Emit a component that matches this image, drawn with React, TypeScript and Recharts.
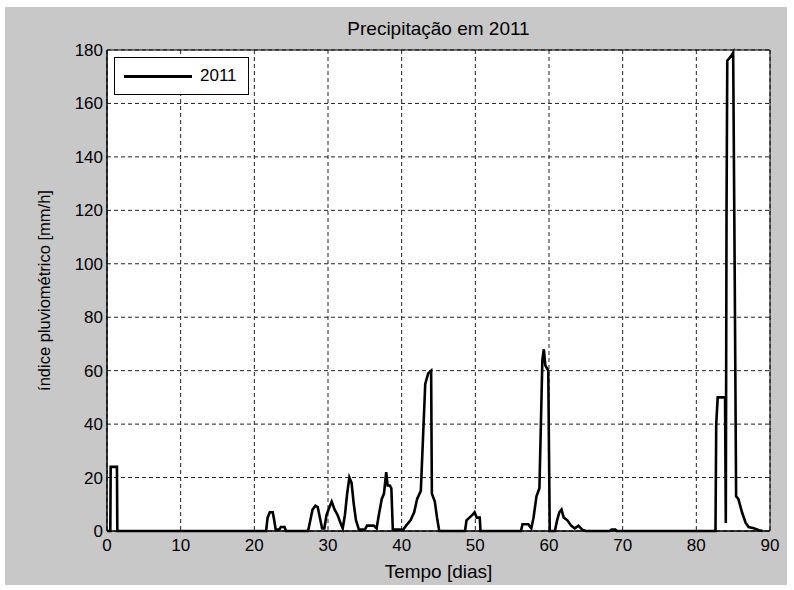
import React from 'react';
import { LineChart, Line, XAxis, YAxis, CartesianGrid, ReferenceArea } from 'recharts';

const title = 'Precipitação em 2011';
const seriesName = '2011';

// tempo em dias
const days = [
  0, 0.45, 0.5, 1.35, 1.4, 21.6, 21.8, 22.1, 22.5, 22.7, 22.9, 23.4, 23.6, 24.1, 24.3,
  27.3, 27.6, 27.9, 28.3, 28.6, 28.9, 29.2, 29.5, 29.8, 30.2, 30.5, 30.9, 31.3, 31.7, 32.0,
  32.3, 32.6, 32.9, 33.2, 33.5, 33.8, 34.2, 35.0, 35.3, 36.2, 36.6, 36.9, 37.3, 37.6, 37.9,
  38.1, 38.4, 38.6, 38.8, 40.2, 40.6, 41.2, 41.7, 42.1, 42.6, 42.9, 43.2, 43.6, 44.0, 44.1,
  44.5, 44.8, 45.1, 48.6, 48.8, 49.2, 49.6, 49.9, 50.2, 50.6, 50.7, 56.2, 56.4, 57.2, 57.6,
  57.9, 58.3, 58.7, 58.9, 59.1, 59.3, 59.5, 59.9, 60.0, 60.1, 60.8, 61.1, 61.4, 61.7, 62.0,
  62.5, 63.0, 63.5, 64.0, 64.5, 65.0, 68.2, 68.5, 69.0, 69.2, 82.6, 82.7, 82.9, 83.9, 84.0,
  84.1, 84.2, 84.8, 85.0, 85.2, 85.4, 85.7, 86.2, 86.7, 87.1, 87.8, 88.5, 89.0,
];

// índice pluviométrico [mm/h]
const rain = [
  0, 0, 24, 24, 0, 0, 5, 7, 7, 4, 0.5, 0.5, 1.5, 1.5, 0,
  0, 4, 8, 9.5, 9, 5, 1, 1, 6, 9, 11, 8, 6, 3, 1,
  6, 14, 20, 18, 10, 4, 0.5, 0.5, 2, 2, 1, 6, 12, 14, 22,
  17, 17, 16, 0.5, 0.5, 2, 4, 7, 12, 15, 35, 55, 59, 60, 14,
  11, 5, 0, 0, 4, 5, 6, 7, 5, 5, 0, 0, 2.5, 2.5, 1,
  5, 13, 16, 40, 64, 68, 62, 60, 30, 0, 0, 4, 7, 8, 5,
  4, 2, 1, 2, 0.5, 0, 0, 0.5, 0.5, 0, 0, 40, 50, 50, 3,
  120, 176, 178, 179, 100, 13, 12, 7, 3, 1.5, 1, 0.3, 0,
];

const xTicks = [0, 10, 20, 30, 40, 50, 60, 70, 80, 90];
const yTicks = [0, 20, 40, 60, 80, 100, 120, 140, 160, 180];

const data = days.map((d, i) => ({ dia: d, valor: rain[i] }));

const font = '"Liberation Sans", Arial, sans-serif';

export default function App() {
  return (
    <div style={{ position: 'absolute', left: 0, top: 0, width: 794, height: 590, background: '#fff' }}>
      <div style={{ position: 'absolute', left: 5, top: 7, width: 782, height: 578, background: '#c8c8c8' }} />
      <div
        style={{
          position: 'absolute',
          left: 107,
          width: 663,
          top: 18,
          textAlign: 'center',
          fontFamily: font,
          fontSize: 19,
        }}
      >
        {title}
      </div>
      <div style={{ position: 'absolute', left: 0, top: 0 }}>
        <LineChart width={794} height={590} data={data} margin={{ top: 50, right: 24, bottom: 0, left: 0 }}>
          <CartesianGrid
            fill="#fff"
            stroke="#222"
            strokeDasharray="4 3"
            horizontalValues={yTicks}
            verticalValues={xTicks}
          />
          <XAxis
            dataKey="dia"
            type="number"
            domain={[0, 90]}
            ticks={xTicks}
            height={59}
            tickLine={false}
            axisLine={{ stroke: '#000' }}
            tick={{ fill: '#000', fontSize: 17, fontFamily: font }}
            label={{ value: 'Tempo [dias]', position: 'insideBottom', offset: 12, fill: '#000', fontSize: 19, fontFamily: font }}
          />
          <YAxis
            type="number"
            domain={[0, 180]}
            ticks={yTicks}
            width={107}
            tickLine={false}
            tickSize={2}
            tickMargin={2}
            axisLine={{ stroke: '#000' }}
            tick={{ fill: '#000', fontSize: 17, fontFamily: font }}
            label={{
              value: 'índice pluviométrico [mm/h]',
              angle: -90,
              position: 'insideLeft',
              offset: 44,
              style: { textAnchor: 'middle' },
              fill: '#000',
              fontSize: 16.5,
              fontFamily: font,
            }}
          />
          <ReferenceArea x1={0} x2={90} y1={0} y2={180} fill="none" stroke="#000" strokeWidth={1} ifOverflow="visible" />
          <Line
            type="linear"
            dataKey="valor"
            name={seriesName}
            stroke="#000"
            strokeWidth={2.6}
            dot={false}
            isAnimationActive={false}
          />
        </LineChart>
      </div>
      <div
        style={{
          position: 'absolute',
          left: 114,
          top: 57,
          width: 135,
          height: 38,
          boxSizing: 'border-box',
          border: '1px solid #000',
          background: '#fff',
          display: 'flex',
          alignItems: 'center',
          fontFamily: font,
          fontSize: 17,
        }}
      >
        <div style={{ width: 68, height: 3, background: '#000', marginLeft: 9, marginRight: 8 }} />
        <span>{seriesName}</span>
      </div>
    </div>
  );
}
